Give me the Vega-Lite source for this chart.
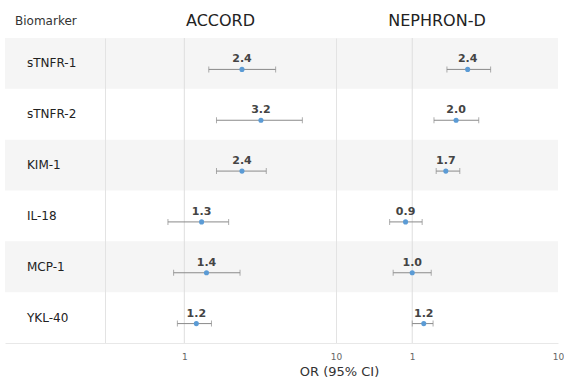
{
  "$schema": "https://vega.github.io/schema/vega-lite/v6.json",
  "padding": {"left": 5, "top": 12, "right": 0, "bottom": 1},
  "background": "white",
  "config": {
    "font": "DejaVu Sans",
    "view": {"stroke": null},
    "concat": {"spacing": 0},
    "title": {"fontWeight": "normal", "color": "#222"}
  },
  "bounds": "flush",
  "spacing": 0,
  "resolve": {"scale": {"x": "independent", "y": "independent"}},
  "datasets": {
    "est": [
      {"study": "ACCORD", "b": "sTNFR-1", "or": 2.4, "lo": 1.45, "hi": 4.0, "shade": true},
      {"study": "ACCORD", "b": "sTNFR-2", "or": 3.2, "lo": 1.63, "hi": 6.0, "shade": false},
      {"study": "ACCORD", "b": "KIM-1", "or": 2.4, "lo": 1.63, "hi": 3.47, "shade": true},
      {"study": "ACCORD", "b": "IL-18", "or": 1.3, "lo": 0.78, "hi": 1.96, "shade": false},
      {"study": "ACCORD", "b": "MCP-1", "or": 1.4, "lo": 0.85, "hi": 2.33, "shade": true},
      {"study": "ACCORD", "b": "YKL-40", "or": 1.2, "lo": 0.9, "hi": 1.51, "shade": false},
      {"study": "NEPHRON-D", "b": "sTNFR-1", "or": 2.4, "lo": 1.73, "hi": 3.45, "shade": true},
      {"study": "NEPHRON-D", "b": "sTNFR-2", "or": 2.0, "lo": 1.41, "hi": 2.86, "shade": false},
      {"study": "NEPHRON-D", "b": "KIM-1", "or": 1.7, "lo": 1.46, "hi": 2.12, "shade": true},
      {"study": "NEPHRON-D", "b": "IL-18", "or": 0.9, "lo": 0.7, "hi": 1.17, "shade": false},
      {"study": "NEPHRON-D", "b": "MCP-1", "or": 1.0, "lo": 0.74, "hi": 1.35, "shade": true},
      {"study": "NEPHRON-D", "b": "YKL-40", "or": 1.2, "lo": 1.0, "hi": 1.39, "shade": false}
    ],
    "ref": [{"one": 1}]
  },
  "hconcat": [
    {
      "width": 100,
      "height": 305,
      "title": {"text": "Biomarker", "anchor": "start", "fontSize": 12, "color": "#333", "offset": 10, "dx": 10},
      "data": {"name": "est"},
      "transform": [{"filter": "datum.study === 'ACCORD'"}],
      "encoding": {
        "y": {"field": "b", "type": "nominal", "sort": ["sTNFR-1", "sTNFR-2", "KIM-1", "IL-18", "MCP-1", "YKL-40"], "scale": {"paddingInner": 0, "paddingOuter": 0}, "axis": null}
      },
      "layer": [
        {
          "transform": [{"filter": "datum.shade"}],
          "mark": {"type": "rect", "color": "#f5f5f5"},
          "encoding": {}
        },
        {
          "mark": {"type": "text", "align": "left", "fontSize": 12, "color": "#222"},
          "encoding": {
            "text": {"field": "b"},
            "x": {"datum": 0.22, "type": "quantitative", "scale": {"domain": [0, 1]}, "axis": {"labels": false, "ticks": false, "grid": false, "domain": true, "domainColor": "#e8e8e8", "title": null}}
          }
        }
      ]
    },
    {
      "width": 231,
      "height": 305,
      "title": {"text": "ACCORD", "anchor": "middle", "fontSize": 16, "offset": 9},
      "data": {"name": "est"},
      "transform": [{"filter": "datum.study === 'ACCORD'"}],
      "encoding": {
        "y": {"field": "b", "type": "nominal", "sort": ["sTNFR-1", "sTNFR-2", "KIM-1", "IL-18", "MCP-1", "YKL-40"], "scale": {"paddingInner": 0, "paddingOuter": 0}, "axis": {"labels": false, "ticks": false, "grid": false, "domain": true, "domainColor": "#e3e3e3", "title": null}}
      },
      "layer": [
        {
          "transform": [{"filter": "datum.shade"}],
          "mark": {"type": "rect", "color": "#f5f5f5"},
          "encoding": {}
        },
        {
          "data": {"name": "ref"},
          "transform": [],
          "mark": {"type": "rule", "color": "#dedede", "strokeWidth": 1},
          "encoding": {"y": null, "x": {"field": "one", "type": "quantitative", "scale": {"type": "log", "domain": [0.3, 10], "nice": false}, "axis": {"values": [1, 10], "grid": false, "ticks": false, "domain": true, "domainColor": "#e8e8e8", "labelFontSize": 9, "labelColor": "#666", "labelPadding": 9, "labelFlush": false, "format": "d", "title": null}}}
        },
        {
          "mark": {"type": "rule", "color": "#8a8a8a", "strokeWidth": 1, "yOffset": 6},
          "encoding": {"x": {"field": "lo", "type": "quantitative"}, "x2": {"field": "hi"}}
        },
        {
          "mark": {"type": "tick", "color": "#8a8a8a", "orient": "vertical", "size": 6, "thickness": 1, "yOffset": 6},
          "encoding": {"x": {"field": "lo", "type": "quantitative"}}
        },
        {
          "mark": {"type": "tick", "color": "#8a8a8a", "orient": "vertical", "size": 6, "thickness": 1, "yOffset": 6},
          "encoding": {"x": {"field": "hi", "type": "quantitative"}}
        },
        {
          "mark": {"type": "point", "filled": true, "color": "#5b9bd5", "size": 26, "opacity": 1, "yOffset": 6},
          "encoding": {"x": {"field": "or", "type": "quantitative"}}
        },
        {
          "mark": {"type": "text", "fontSize": 11, "fontWeight": "bold", "color": "#444", "yOffset": -4},
          "encoding": {"x": {"field": "or", "type": "quantitative"}, "text": {"field": "or", "format": ".1f"}}
        }
      ]
    },
    {
      "width": 222,
      "height": 305,
      "title": {"text": "NEPHRON-D", "anchor": "middle", "fontSize": 16, "offset": 9, "dx": -10},
      "data": {"name": "est"},
      "transform": [{"filter": "datum.study === 'NEPHRON-D'"}],
      "encoding": {
        "y": {"field": "b", "type": "nominal", "sort": ["sTNFR-1", "sTNFR-2", "KIM-1", "IL-18", "MCP-1", "YKL-40"], "scale": {"paddingInner": 0, "paddingOuter": 0}, "axis": {"labels": false, "ticks": false, "grid": false, "domain": true, "domainColor": "#e3e3e3", "title": null}}
      },
      "layer": [
        {
          "transform": [{"filter": "datum.shade"}],
          "mark": {"type": "rect", "color": "#f5f5f5"},
          "encoding": {}
        },
        {
          "data": {"name": "ref"},
          "transform": [],
          "mark": {"type": "rule", "color": "#dedede", "strokeWidth": 1},
          "encoding": {"y": null, "x": {"field": "one", "type": "quantitative", "scale": {"type": "log", "domain": [0.3, 10], "nice": false}, "axis": {"values": [1, 10], "grid": false, "ticks": false, "domain": true, "domainColor": "#e8e8e8", "labelFontSize": 9, "labelColor": "#666", "labelPadding": 9, "labelFlush": false, "format": "d", "title": "OR (95% CI)", "titleFontSize": 13, "titleFontWeight": "normal", "titleColor": "#333", "titleX": 3, "titleAnchor": null, "titleAlign": "center", "titlePadding": 4}}}
        },
        {
          "mark": {"type": "rule", "color": "#8a8a8a", "strokeWidth": 1, "yOffset": 6},
          "encoding": {"x": {"field": "lo", "type": "quantitative"}, "x2": {"field": "hi"}}
        },
        {
          "mark": {"type": "tick", "color": "#8a8a8a", "orient": "vertical", "size": 6, "thickness": 1, "yOffset": 6},
          "encoding": {"x": {"field": "lo", "type": "quantitative"}}
        },
        {
          "mark": {"type": "tick", "color": "#8a8a8a", "orient": "vertical", "size": 6, "thickness": 1, "yOffset": 6},
          "encoding": {"x": {"field": "hi", "type": "quantitative"}}
        },
        {
          "mark": {"type": "point", "filled": true, "color": "#5b9bd5", "size": 26, "opacity": 1, "yOffset": 6},
          "encoding": {"x": {"field": "or", "type": "quantitative"}}
        },
        {
          "mark": {"type": "text", "fontSize": 11, "fontWeight": "bold", "color": "#444", "yOffset": -4},
          "encoding": {"x": {"field": "or", "type": "quantitative"}, "text": {"field": "or", "format": ".1f"}}
        }
      ]
    }
  ]
}
